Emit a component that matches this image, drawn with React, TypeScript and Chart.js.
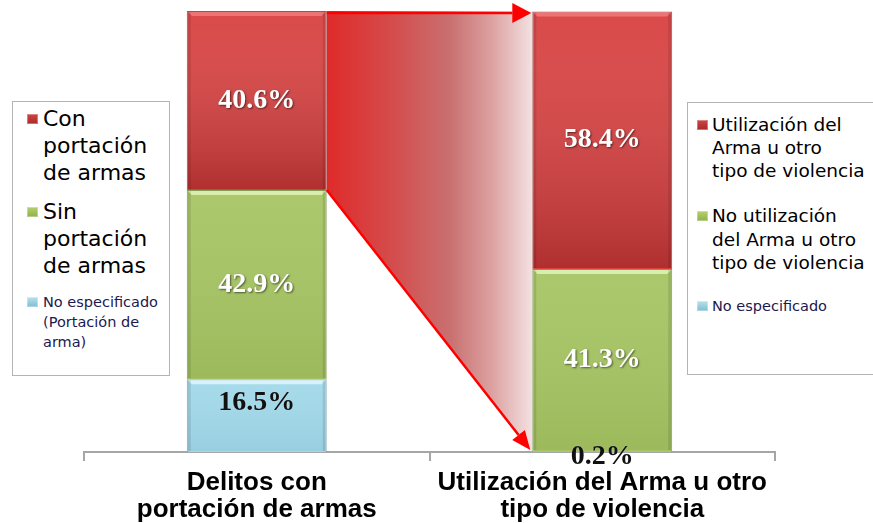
import React, { useEffect, useRef } from "react";
import { Chart, registerables } from "chart.js";

Chart.register(...registerables);

// ---- data ----
const categories: string[][] = [
  ["Delitos con", "portación de armas"],
  ["Utilización del Arma u otro", "tipo de violencia"],
];
const conArmaValues = [40.6, 58.4];
const sinArmaValues = [42.9, 41.3];
const noEspecificadoValues = [16.5, 0.2];

const leftLegendLines: string[][] = [
  ["Con", "portación", "de armas"],
  ["Sin", "portación", "de armas"],
  ["No especificado", "(Portación de", "arma)"],
];
const rightLegendLines: string[][] = [
  ["Utilización del", "Arma u otro", "tipo de violencia"],
  ["No utilización", "del Arma u otro", "tipo de violencia"],
  ["No especificado"],
];

const RED = "#d84040";
const GREEN = "#a7c564";
const BLUE = "#a2d9ea";

const shadeStyles = [
  { hi: "rgba(230,250,255,0.75)", dark: "rgba(60,110,130,0.10)" },
  { hi: "rgba(225,245,185,0.85)", dark: "rgba(60,80,20,0.10)" },
  { hi: "rgba(255,150,150,0.55)", dark: "rgba(70,0,0,0.28)" },
];

function drawArrow(ctx: CanvasRenderingContext2D, x0: number, y0: number, x1: number, y1: number, headLen: number, headHalf: number) {
  const ang = Math.atan2(y1 - y0, x1 - x0);
  const bx = x1 - headLen * Math.cos(ang);
  const by = y1 - headLen * Math.sin(ang);
  ctx.beginPath();
  ctx.moveTo(x0, y0);
  ctx.lineTo(bx, by);
  ctx.stroke();
  ctx.beginPath();
  ctx.moveTo(x1, y1);
  ctx.lineTo(bx + headHalf * Math.sin(ang), by - headHalf * Math.cos(ang));
  ctx.lineTo(bx - headHalf * Math.sin(ang), by + headHalf * Math.cos(ang));
  ctx.closePath();
  ctx.fill();
}

const flowPlugin = {
  id: "flowPlugin",
  beforeDatasetsDraw(chart: any) {
    const ctx: CanvasRenderingContext2D = chart.ctx;
    const redMeta = chart.getDatasetMeta(2);
    const p1 = redMeta.data[0].getProps(["x", "y", "base", "width"], true);
    const p2 = redMeta.data[1].getProps(["x", "y", "base", "width"], true);
    const x1 = p1.x + p1.width / 2;
    const x2 = p2.x - p2.width / 2;
    const zero = chart.scales.y.getPixelForValue(0);
    const g = ctx.createLinearGradient(x1, 0, x2, 0);
    g.addColorStop(0, "#e02a2a");
    g.addColorStop(0.3, "#d54a4a");
    g.addColorStop(0.6, "#c97070");
    g.addColorStop(0.8, "#dca0a0");
    g.addColorStop(1, "#f3e1e1");
    ctx.save();
    ctx.fillStyle = g;
    ctx.beginPath();
    ctx.moveTo(x1, p1.y);
    ctx.lineTo(x2, p2.y);
    ctx.lineTo(x2, zero);
    ctx.lineTo(x1, p1.base);
    ctx.closePath();
    ctx.fill();
    ctx.restore();
  },
  afterDatasetsDraw(chart: any) {
    const ctx: CanvasRenderingContext2D = chart.ctx;
    ctx.save();
    // bevel / shading on each segment
    chart.data.datasets.forEach((ds: any, di: number) => {
      const meta = chart.getDatasetMeta(di);
      meta.data.forEach((el: any) => {
        const { x, y, base, width } = el.getProps(["x", "y", "base", "width"], true);
        const left = x - width / 2;
        const top = Math.min(y, base);
        const h = Math.abs(base - y);
        if (h < 6) return;
        const st = shadeStyles[di];
        const g = ctx.createLinearGradient(0, top, 0, top + h);
        g.addColorStop(0, "rgba(255,255,255,0.05)");
        g.addColorStop(1, st.dark);
        ctx.fillStyle = g;
        ctx.fillRect(left + 1, top + 1, width - 2, h - 2);
        ctx.fillStyle = st.hi;
        ctx.beginPath();
        ctx.moveTo(left + 1, top + 1);
        ctx.lineTo(left + width - 1, top + 1);
        ctx.lineTo(left + width - 5, top + 5);
        ctx.lineTo(left + 5, top + 5);
        ctx.closePath();
        ctx.fill();
        ctx.fillStyle = "rgba(0,0,0,0.10)";
        ctx.fillRect(left + 1, top + 1, 3, h - 2);
        ctx.fillRect(left + width - 4, top + 1, 3, h - 2);
      });
    });

    // arrows
    const redMeta = chart.getDatasetMeta(2);
    const p1 = redMeta.data[0].getProps(["x", "y", "base", "width"], true);
    const p2 = redMeta.data[1].getProps(["x", "y", "base", "width"], true);
    const x1 = p1.x + p1.width / 2;
    const x2 = p2.x - p2.width / 2;
    const zero = chart.scales.y.getPixelForValue(0);
    ctx.strokeStyle = "#ff0000";
    ctx.fillStyle = "#ff0000";
    ctx.lineWidth = 2.5;
    drawArrow(ctx, x1, p1.y + 2, x2 - 1, p1.y + 2, 19, 10);
    drawArrow(ctx, x1, p1.base, x2 - 2, zero - 2, 19, 8);

    // value labels
    ctx.textAlign = "center";
    ctx.textBaseline = "middle";
    ctx.font = "bold 28px 'Liberation Serif', serif";
    chart.data.datasets.forEach((ds: any, di: number) => {
      const meta = chart.getDatasetMeta(di);
      meta.data.forEach((el: any, i: number) => {
        const { x, y, base } = el.getProps(["x", "y", "base"], true);
        const h = Math.abs(base - y);
        const txt = ds.data[i].toFixed(1) + "%";
        let ty = (y + base) / 2;
        let color = "#ffffff";
        if (di === 0) {
          color = "#111111";
          ty = h < 20 ? base + 5 : y + 24;
        }
        ctx.save();
        if (color === "#ffffff") {
          ctx.shadowColor = "rgba(0,0,0,0.55)";
          ctx.shadowBlur = 2;
          ctx.shadowOffsetX = 1;
          ctx.shadowOffsetY = 1;
        } else {
          ctx.shadowColor = "rgba(255,255,255,0.6)";
          ctx.shadowBlur = 1;
        }
        ctx.fillStyle = color;
        ctx.fillText(txt, x, ty);
        ctx.restore();
      });
    });
    ctx.restore();
  },
};

const markerColors = [
  ["#d04545", "#a82a2a"],
  ["#b5d16e", "#8fb04a"],
  ["#b7e2ee", "#7fbdd0"],
];

function Marker({ idx, left, top }: { idx: number; left: number; top: number }) {
  const [c1, c2] = markerColors[idx];
  return (
    <div
      style={{
        position: "absolute",
        left,
        top,
        width: 11,
        height: 10,
        background: `linear-gradient(${c1}, ${c2})`,
        boxShadow: "inset 0 0 0 1px rgba(255,255,255,0.35)",
      }}
    />
  );
}

function Lines({ lines }: { lines: string[] }) {
  return (
    <>
      {lines.map((l, i) => (
        <div key={i} style={{ whiteSpace: "nowrap" }}>{l}</div>
      ))}
    </>
  );
}

export default function App() {
  const canvasRef = useRef<HTMLCanvasElement | null>(null);

  useEffect(() => {
    if (!canvasRef.current) return;
    const chart = new Chart(canvasRef.current, {
      type: "bar",
      data: {
        labels: categories,
        datasets: [
          {
            label: "No especificado",
            data: noEspecificadoValues,
            backgroundColor: BLUE,
            borderColor: "rgba(110,160,178,0.9)",
            borderWidth: 1,
          },
          {
            label: "Sin portación de armas",
            data: sinArmaValues,
            backgroundColor: GREEN,
            borderColor: "rgba(120,145,70,0.9)",
            borderWidth: 1,
          },
          {
            label: "Con portación de armas",
            data: conArmaValues,
            backgroundColor: RED,
            borderColor: "rgba(140,40,40,0.8)",
            borderWidth: 1,
          },
        ],
      },
      options: {
        animation: false,
        responsive: true,
        maintainAspectRatio: false,
        layout: { padding: { left: 84, right: 98, top: 11, bottom: 0 } },
        datasets: {
          bar: { barPercentage: 0.405, categoryPercentage: 1 },
        },
        plugins: {
          legend: { display: false },
          tooltip: { enabled: false },
        },
        scales: {
          x: {
            stacked: true,
            grid: {
              offset: true,
              drawOnChartArea: false,
              drawTicks: true,
              tickLength: 9,
              color: "#a6a6a6",
              lineWidth: 2,
            },
            border: { display: true, color: "#a6a6a6", width: 2 },
            ticks: {
              color: "#000000",
              padding: 8,
              maxRotation: 0,
              autoSkip: false,
              font: { family: "'Liberation Sans', Arial, sans-serif", weight: "bold", size: 26, lineHeight: "27px" },
            },
            afterFit: (scale: any) => {
              scale.height = 71;
            },
          },
          y: {
            display: false,
            stacked: true,
            min: 0,
            max: 100,
          },
        },
      },
      plugins: [flowPlugin],
    } as any);
    return () => chart.destroy();
  }, []);

  const bigFont = "'DejaVu Sans', Verdana, sans-serif";

  return (
    <div style={{ position: "fixed", left: 0, top: 0, width: 873, height: 523, background: "#ffffff", overflow: "hidden" }}>
      <canvas ref={canvasRef} style={{ position: "absolute", left: 0, top: 0 }} />
      {/* left legend */}
      <div
        style={{
          position: "absolute",
          left: 12,
          top: 101,
          width: 156,
          height: 273,
          border: "1px solid #b4b4b4",
          background: "#ffffff",
          fontFamily: bigFont,
        }}
      >
        <Marker idx={0} left={14} top={12} />
        <div style={{ position: "absolute", left: 30, top: 3, fontSize: 22, lineHeight: "27px", color: "#000" }}>
          <Lines lines={leftLegendLines[0]} />
        </div>
        <Marker idx={1} left={14} top={105} />
        <div style={{ position: "absolute", left: 30, top: 96, fontSize: 22, lineHeight: "27px", color: "#000" }}>
          <Lines lines={leftLegendLines[1]} />
        </div>
        <Marker idx={2} left={14} top={195} />
        <div style={{ position: "absolute", left: 30, top: 190, fontSize: 14.5, lineHeight: "20px", color: "#1c1850" }}>
          <Lines lines={leftLegendLines[2]} />
        </div>
      </div>
      {/* right legend */}
      <div
        style={{
          position: "absolute",
          left: 687,
          top: 102,
          width: 230,
          height: 271,
          border: "1px solid #b4b4b4",
          background: "#ffffff",
          fontFamily: bigFont,
        }}
      >
        <Marker idx={0} left={9} top={17} />
        <div style={{ position: "absolute", left: 24, top: 10, fontSize: 18.5, lineHeight: "23px", color: "#000" }}>
          <Lines lines={rightLegendLines[0]} />
        </div>
        <Marker idx={1} left={9} top={108} />
        <div style={{ position: "absolute", left: 24, top: 101, fontSize: 18.5, lineHeight: "23.5px", color: "#000" }}>
          <Lines lines={rightLegendLines[1]} />
        </div>
        <Marker idx={2} left={9} top={198} />
        <div style={{ position: "absolute", left: 24, top: 193, fontSize: 14.5, lineHeight: "20px", color: "#1c1850" }}>
          <Lines lines={rightLegendLines[2]} />
        </div>
      </div>
    </div>
  );
}
